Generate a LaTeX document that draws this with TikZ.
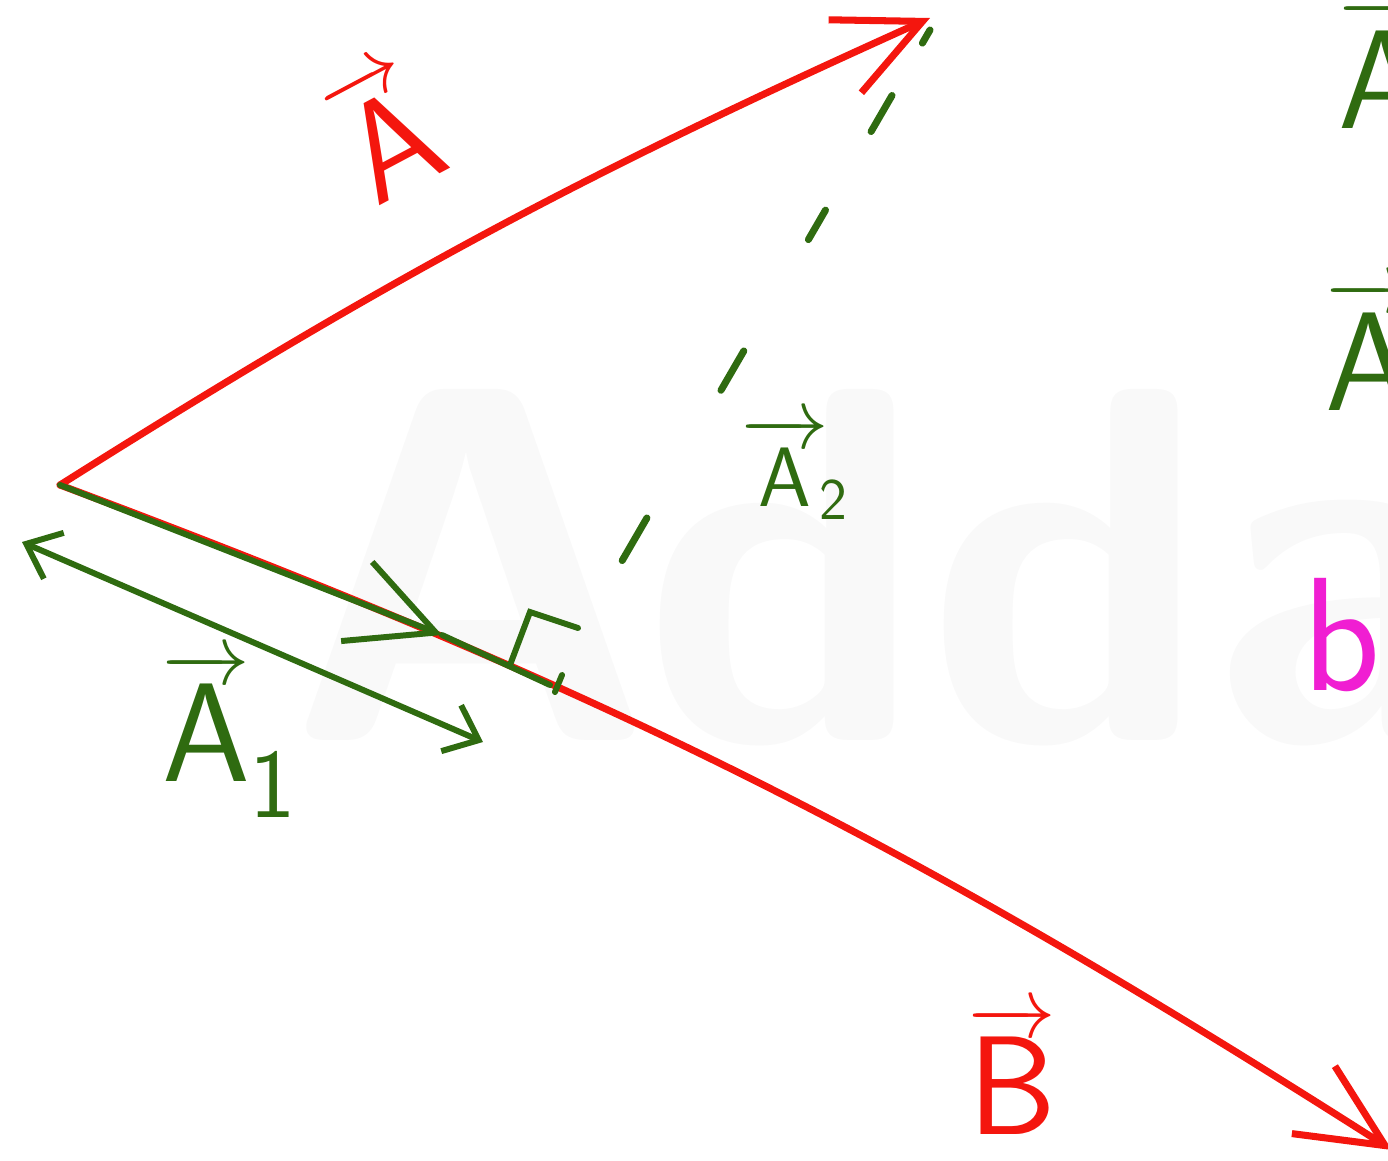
\documentclass[tikz,border=0pt]{standalone}
\usepackage{fontspec}
\usepackage{amsmath}
\usepackage{tikz}
\usetikzlibrary{positioning, arrows.meta, calc}
\definecolor{penred}{HTML}{F4160E}
\definecolor{pengreen}{HTML}{2F6B10}
\definecolor{penpink}{HTML}{F01ED2}
\tikzset{
  vec arrow/.style={
    draw=penred,
    line width=2pt,
    line cap=round,
    -{Straight Barb[length=8.5mm, width=8mm]}
  },
  comp line/.style={
    draw=pengreen,
    line width=1.7pt,
    line cap=round
  },
  hand label/.style={
    inner sep=0pt,
    font=\fontsize{40}{44}\selectfont
  }
}

\begin{document}
\begin{tikzpicture}[
  small barb/.tip={Straight Barb[length=3mm, width=5mm]},
  mid barb/.tip={Straight Barb[length=8.5mm, width=8.5mm]}]
  \useasboundingbox (0,0) rectangle (13.88,-11.60);
  \clip (0,0) rectangle (13.88,-11.60);

  % faint watermark
  \node[anchor=base west, inner sep=0pt, text=black!2.5,
        font=\fontsize{144}{144}\selectfont\sffamily\bfseries] (mark) at (2.85,-7.40) {Adda};

  % points
  \coordinate (O) at (0.60,-4.85);
  \coordinate (Atip) at (9.30,-0.18);
  \coordinate (Btip) at (13.92,-11.50);
  \coordinate (foot) at (5.50,-6.85);
  \coordinate (A1tip) at (4.42,-6.35);
  \coordinate (dtop) at (9.30,-0.30);

  % the two vectors
  \draw[vec arrow] (O) to[bend left=4] (Atip);
  \draw[vec arrow] (O) to[bend left=6] (Btip);

  % component along B
  \draw[comp line, -{mid barb}] (O) -- (A1tip);
  \draw[comp line] (A1tip) -- (foot);

  % dropped perpendicular (dashes)
  \foreach \a/\b in {0/0.02, 0.10/0.155, 0.275/0.32, 0.49/0.55, 0.745/0.81}
    \draw[comp line, line width=2pt] ($(dtop)!\a!(foot)$) -- ($(dtop)!\b!(foot)$);

  % right angle mark
  \coordinate (r1) at (5.10,-6.65);
  \coordinate (r2) at (5.30,-6.12);
  \coordinate (r3) at (5.78,-6.28);
  \draw[comp line] (r1) -- (r2) -- (r3);
  \coordinate (t1) at (5.62,-6.75);
  \coordinate (t2) at (5.55,-6.92);
  \draw[comp line] (t1) -- (t2);

  % length of A1
  \coordinate (d1) at (0.22,-5.42);
  \coordinate (d2) at (4.83,-7.42);
  \draw[comp line, {small barb}-{small barb}] (d1) -- (d2);

  % labels
  \node[hand label, text=penred, rotate=28] (labA) at (3.85,-1.30) {$\overrightarrow{\mathsf{A}}$};
  \node[hand label, text=penred] (labB) at (10.12,-10.70) {$\overrightarrow{\mathsf{B}}$};
  \node[hand label, text=pengreen] (labA1) at (2.30,-7.35) {$\overrightarrow{\mathsf{A}}_{\mathsf{1}}$};
  \node[hand label, text=pengreen, font=\fontsize{24}{28}\selectfont] (labA2) at (7.95,-4.68) {$\overrightarrow{\mathsf{A}}\mkern-2mu{}_{\mathsf{2}}$};

  % cut-off text at the right edge
  \node[hand label, text=pengreen, anchor=north west] (edgeA) at (13.38,0.02) {$\overrightarrow{\mathsf{A}}$};
  \node[hand label, text=pengreen, anchor=north west] (edgeB) at (13.25,-2.80) {$\overrightarrow{\mathsf{A}}$};
  \node[hand label, text=penpink, anchor=base west, font=\fontsize{46}{50}\selectfont\sffamily] (note) at (13.02,-6.90) {be};

\end{tikzpicture}
\end{document}
